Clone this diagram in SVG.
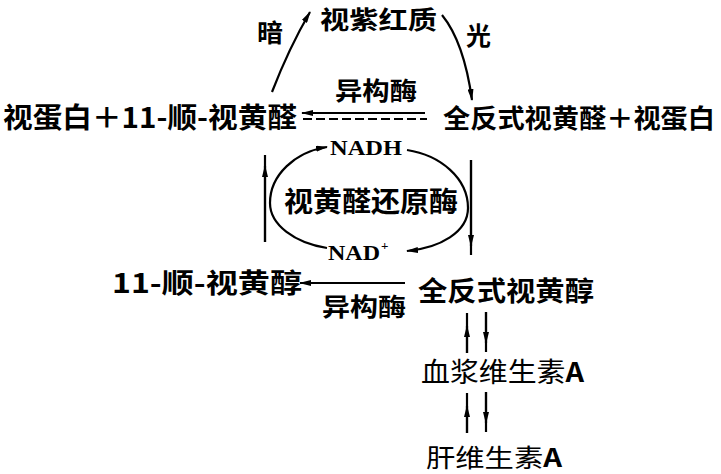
<svg xmlns="http://www.w3.org/2000/svg" width="721" height="474" viewBox="0 0 721 474">
<defs>
<style>
.t{font-family:"Noto Sans CJK SC","Noto Sans",sans-serif;font-weight:700;fill:#000}
.n{font-family:"Noto Sans CJK SC","Noto Sans",sans-serif;font-weight:400;fill:#000}
.s{font-family:"Liberation Serif",serif;font-weight:700;fill:#000}
.l{fill:none;stroke:#000;stroke-width:2.2}
</style>
<marker id="ah" viewBox="0 0 12 6" refX="11" refY="3" markerWidth="12" markerHeight="6" markerUnits="userSpaceOnUse" orient="auto">
<path d="M0,0 L12,3 L0,6 Z" fill="#000"/>
</marker>
</defs>
<rect width="721" height="474" fill="#fff"/>
<g id="rhodopsin"><text class="t" x="320" y="29" font-size="25" textLength="117" lengthAdjust="spacingAndGlyphs">视紫红质</text></g>
<g id="dark"><text class="t" x="257" y="42" font-size="25" textLength="26" lengthAdjust="spacingAndGlyphs">暗</text></g>
<g id="light"><text class="t" x="466" y="45" font-size="25" textLength="25" lengthAdjust="spacingAndGlyphs">光</text></g>
<g id="cis-retinal"><text class="t" x="3" y="128" font-size="28" textLength="294" lengthAdjust="spacingAndGlyphs">视蛋白＋11-顺-视黄醛</text></g>
<g id="trans-retinal"><text class="t" x="443" y="128" font-size="26" textLength="272" lengthAdjust="spacingAndGlyphs">全反式视黄醛＋视蛋白</text></g>
<g id="isomerase1"><text class="t" x="335" y="100" font-size="25" textLength="82" lengthAdjust="spacingAndGlyphs">异构酶</text></g>
<g id="nadh"><text class="s" x="330" y="155" font-size="21" textLength="72" lengthAdjust="spacingAndGlyphs">NADH</text></g>
<g id="reductase"><text class="t" x="284" y="212" font-size="28" textLength="174" lengthAdjust="spacingAndGlyphs">视黄醛还原酶</text></g>
<g id="nadplus"><text class="s" x="328" y="260" font-size="21" textLength="52" lengthAdjust="spacingAndGlyphs">NAD</text><text class="s" x="381" y="250" font-size="13">+</text></g>
<g id="cis-retinol"><text class="t" x="112" y="293" font-size="27" textLength="190" lengthAdjust="spacingAndGlyphs">11-顺-视黄醇</text></g>
<g id="isomerase2"><text class="t" x="322" y="316" font-size="25" textLength="84" lengthAdjust="spacingAndGlyphs">异构酶</text></g>
<g id="trans-retinol"><text class="t" x="418" y="301" font-size="27" textLength="176" lengthAdjust="spacingAndGlyphs">全反式视黄醇</text></g>
<g id="plasma-va"><text class="n" x="421" y="382" font-size="27" textLength="163" lengthAdjust="spacingAndGlyphs">血浆维生素<tspan font-weight="700">A</tspan></text></g>
<g id="liver-va"><text class="n" x="426" y="467" font-size="25" textLength="136" lengthAdjust="spacingAndGlyphs">肝维生素<tspan font-weight="700">A</tspan></text></g>
<g id="connectors">
<path class="l" d="M272,92 Q289,48 310,12" marker-end="url(#ah)"/>
<path class="l" d="M442,15 Q464,42 472,100" marker-end="url(#ah)"/>
<path class="l" d="M425,113 L302,113" marker-end="url(#ah)"/>
<path class="l" d="M303,119 L427,119" stroke-dasharray="9,4"/>
<path class="l" d="M327,248 C295,243 270,225 270,203 C270,175 295,152 327,147" marker-end="url(#ah)"/>
<path class="l" d="M407,150 C440,155 468,178 468,208 C468,232 440,248 407,251" marker-end="url(#ah)"/>
<path class="l" d="M265,242 L265,155"/>
<path class="l" d="M265,242 L265,166" marker-end="url(#ah)"/>
<path class="l" d="M471,160 L471,255"/>
<path class="l" d="M471,160 L471,246" marker-end="url(#ah)"/>
<path class="l" d="M405,283 L300,283" marker-end="url(#ah)"/>
<path class="l" d="M467,353 L467,313"/>
<path class="l" d="M467,353 L467,326" marker-end="url(#ah)"/>
<path class="l" d="M486,312 L486,352"/>
<path class="l" d="M486,312 L486,343" marker-end="url(#ah)"/>
<path class="l" d="M467,433 L467,393"/>
<path class="l" d="M467,433 L467,406" marker-end="url(#ah)"/>
<path class="l" d="M486,392 L486,432"/>
<path class="l" d="M486,392 L486,423" marker-end="url(#ah)"/>
</g>
</svg>
